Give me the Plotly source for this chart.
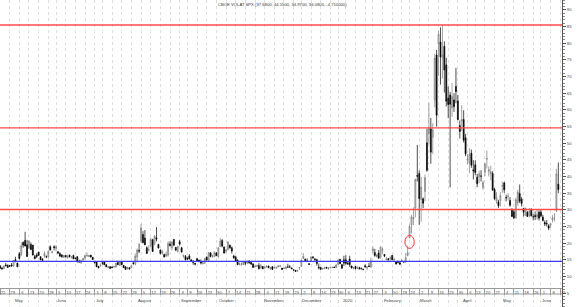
import pandas as pd
import plotly.graph_objects as go

# ---------------- data ----------------
market_holidays = ["2019-05-27", "2019-07-04", "2019-09-02", "2019-11-28", "2019-12-25",
                   "2020-01-01", "2020-01-20", "2020-02-17", "2020-04-10", "2020-05-25"]
dates = pd.bdate_range("2019-04-22", "2020-06-12", freq="C", holidays=market_holidays)

opens = (
    [13.2, 12.5, 12.3, 13.4, 13.3, 13.2, 13.4]  # Apr 2019
    + [13.1, 15.0, 14.0, 16.8, 16.5, 20.2, 20.8, 19.5, 18.6, 19.6, 19.4, 16.0, 16.4, 17.3, 15.9, 15.2, 16.1, 15.9, 15.9, 18.9, 17.2, 18.9]
    + [18.4, 17.4, 16.9, 16.4, 15.7, 16.3, 15.6, 16.4, 15.7, 16.3, 15.5, 15.9, 14.6, 14.0, 14.9, 15.5, 16.3, 16.0, 16.4, 15.7]
    + [14.3, 14.3, 13.0, 13.2, 14.1, 14.3, 13.5, 12.7, 12.9, 12.8, 12.9, 12.8, 14.2, 13.3, 14.4, 13.3, 12.8, 12.4, 12.6, 12.6, 14.0, 13.7]
    + [15.9, 17.8, 20.6, 22.6, 21.5, 18.6, 18.0, 19.3, 21.0, 19.8, 21.6, 19.6, 17.9, 17.0, 16.6, 16.1, 16.4, 19.7, 18.6, 21.1, 18.7, 17.5]
    + [20.4, 18.6, 16.0, 16.0, 15.4, 16.1, 15.0, 14.2, 13.9, 15.3, 14.9, 14.5, 13.8, 14.0, 15.8, 14.7, 17.1, 16.0, 15.9, 17.0]
    + [16.0, 19.0, 20.8, 18.8, 17.6, 18.0, 19.4, 18.6, 16.1, 15.8, 14.8, 13.7, 13.5, 13.6, 14.2, 14.0, 14.6, 14.2, 13.7, 12.9, 13.2, 13.3, 12.5]
    + [13.0, 12.5, 12.9, 13.1, 12.3, 12.9, 12.7, 12.5, 12.9, 13.1, 12.5, 12.4, 12.3, 12.8, 12.8, 12.5, 12.0, 11.8, 11.6, 12.5]
    + [13.0, 15.4, 15.2, 14.6, 13.8, 14.5, 15.8, 15.2, 15.0, 12.8, 12.7, 12.3, 12.3, 12.8, 12.4, 12.6, 12.7, 12.8, 12.6, 13.6, 15.1]
    + [13.5, 15.0, 15.0, 13.9, 15.2, 13.1, 12.5, 13.0, 12.4, 12.6, 12.4, 12.1, 13.2, 12.5, 13.1, 12.8, 17.6, 17.2, 16.0, 17.0, 15.8]
    + [17.8, 16.6, 15.0, 15.3, 15.4, 16.3, 15.0, 14.4, 14.6, 14.1, 14.8, 14.4, 14.4, 16.3, 21.6, 25.5, 27.3, 30.5, 40.3]
    + [40.9, 33.1, 33.3, 35.5, 50.1, 52.9, 54.3, 51.8, 63.0, 76.5, 79.8, 80.4, 75.7, 79.1, 73.5, 63.5, 64.5, 60.6, 63.0, 67.0, 62.7, 55.3]
    + [56.7, 57.1, 51.6, 44.9, 44.0, 47.0, 42.0, 43.5, 39.8, 39.9, 40.1, 36.7, 41.3, 45.2, 41.6, 40.8, 40.9, 36.1, 32.6, 32.4, 32.8]
    + [37.1, 38.1, 33.7, 34.0, 32.8, 29.9, 29.4, 27.6, 32.1, 34.9, 33.2, 30.4, 28.3, 29.3, 28.3, 30.0, 27.9, 28.3, 27.8, 29.3]
    + [29.3, 27.8, 26.2, 25.9, 25.2, 25.4, 26.9, 27.6, 29.7, 37.7]
)
highs = (
    [13.4, 12.9, 13.3, 14.0, 13.6, 13.4, 14.0]
    + [14.9, 15.9, 14.1, 17.3, 20.2, 20.5, 23.4, 21.0, 20.8, 20.2, 19.4, 16.5, 17.0, 17.4, 16.0, 15.4, 17.5, 16.3, 17.9, 19.3, 17.7, 19.3]
    + [19.4, 17.6, 17.2, 16.7, 16.4, 16.4, 16.6, 16.5, 16.1, 16.5, 15.7, 16.1, 15.0, 15.0, 15.6, 16.3, 17.2, 16.5, 16.4, 15.9]
    + [14.5, 14.4, 13.1, 13.9, 14.2, 14.5, 13.6, 13.1, 13.0, 13.0, 13.2, 14.0, 14.7, 14.5, 14.6, 13.4, 13.1, 12.9, 12.7, 13.3, 14.5, 16.9]
    + [18.4, 19.9, 25.8, 23.6, 23.9, 19.0, 19.4, 21.6, 21.3, 22.4, 24.8, 19.8, 18.1, 18.0, 16.8, 17.5, 20.6, 20.5, 20.6, 21.2, 18.8, 19.1]
    + [21.0, 18.9, 16.5, 16.4, 15.9, 16.7, 15.1, 14.9, 14.1, 15.6, 15.0, 15.1, 14.2, 15.6, 16.0, 17.3, 17.2, 16.6, 17.5, 17.3]
    + [18.8, 21.5, 21.2, 19.0, 18.2, 20.6, 19.5, 19.0, 16.5, 16.2, 15.2, 14.2, 14.2, 14.6, 14.3, 14.7, 14.9, 14.3, 14.0, 13.3, 13.5, 14.0, 13.7]
    + [13.1, 12.9, 13.2, 13.2, 12.9, 13.1, 12.9, 12.9, 13.5, 13.4, 12.5, 12.6, 12.9, 13.8, 13.4, 12.7, 12.1, 11.9, 11.8, 12.7]
    + [15.0, 17.0, 15.3, 15.4, 14.0, 15.9, 16.1, 15.5, 15.3, 13.9, 12.8, 12.6, 12.8, 12.8, 12.7, 12.8, 12.9, 12.9, 13.8, 15.1, 15.3]
    + [13.7, 16.2, 16.4, 14.5, 16.2, 13.3, 12.9, 13.0, 13.1, 12.9, 12.7, 12.3, 13.6, 13.0, 14.1, 15.6, 19.0, 18.3, 16.8, 17.9, 19.0]
    + [18.6, 16.7, 15.9, 15.5, 16.0, 16.4, 15.4, 14.5, 14.7, 14.5, 15.1, 14.5, 17.0, 19.2, 25.6, 28.5, 30.7, 39.2, 49.5]
    + [41.8, 39.9, 33.7, 40.6, 54.4, 62.1, 57.6, 56.0, 76.8, 78.0, 83.6, 84.8, 85.5, 80.6, 75.6, 67.0, 65.4, 68.1, 65.0, 72.6, 64.5, 56.8]
    + [61.4, 59.9, 52.8, 46.8, 48.5, 48.1, 44.9, 44.9, 40.8, 41.8, 41.9, 38.8, 44.0, 47.8, 43.0, 43.2, 41.6, 36.6, 35.3, 33.0, 35.3]
    + [38.5, 38.3, 34.5, 35.0, 33.8, 30.5, 30.1, 33.6, 36.0, 37.6, 33.8, 30.6, 30.6, 29.6, 30.5, 30.5, 28.8, 29.5, 30.0, 29.8]
    + [29.9, 28.5, 26.8, 26.9, 25.7, 26.0, 28.4, 29.0, 42.3, 44.2]
)
lows = (
    [12.3, 12.0, 12.2, 12.9, 12.6, 12.8, 13.0]
    + [12.9, 14.3, 12.8, 15.1, 16.2, 18.6, 19.0, 15.8, 18.2, 17.9, 16.3, 15.2, 15.5, 16.2, 14.9, 14.6, 15.6, 15.5, 15.5, 17.8, 16.9, 17.8]
    + [17.5, 16.7, 15.8, 15.6, 15.5, 15.7, 15.3, 15.7, 15.4, 15.2, 15.1, 14.3, 14.2, 13.8, 14.7, 15.0, 15.8, 15.8, 15.7, 15.0]
    + [13.9, 12.8, 12.4, 12.9, 13.5, 13.4, 12.8, 12.4, 12.3, 12.4, 12.6, 12.7, 13.4, 13.1, 13.5, 12.6, 12.0, 12.0, 12.1, 12.5, 13.5, 13.3]
    + [14.2, 17.0, 20.0, 19.9, 19.4, 16.8, 17.4, 18.8, 17.3, 19.4, 20.5, 18.4, 16.6, 16.6, 15.8, 15.9, 15.9, 19.0, 17.8, 19.1, 17.6, 17.2]
    + [19.2, 17.2, 15.6, 14.8, 14.9, 15.1, 14.4, 13.5, 13.3, 14.5, 14.3, 13.6, 13.6, 13.8, 14.9, 14.7, 15.7, 15.6, 15.8, 16.2]
    + [15.4, 18.8, 18.7, 16.9, 17.0, 17.8, 18.3, 16.9, 15.3, 14.5, 13.5, 13.3, 13.2, 13.4, 13.4, 13.7, 13.9, 13.4, 12.6, 12.7, 12.8, 12.1, 12.4]
    + [12.2, 12.3, 12.6, 12.5, 12.0, 12.0, 12.3, 12.3, 12.7, 12.8, 12.0, 12.2, 12.2, 12.6, 12.6, 12.3, 11.7, 11.4, 11.4, 12.0]
    + [12.9, 15.2, 14.5, 14.4, 13.5, 14.4, 15.2, 14.8, 13.2, 12.1, 12.1, 12.1, 12.2, 12.3, 12.0, 12.5, 12.5, 12.5, 12.5, 13.5, 13.8]
    + [12.2, 13.1, 13.5, 13.4, 12.8, 12.4, 12.1, 12.1, 12.3, 12.0, 12.1, 11.8, 12.6, 12.0, 12.8, 12.6, 16.9, 15.9, 15.6, 15.2, 15.3]
    + [16.8, 15.8, 14.9, 14.8, 14.6, 15.0, 14.4, 13.6, 13.9, 13.4, 14.5, 14.0, 14.1, 16.0, 21.5, 22.9, 25.4, 27.7, 38.5]
    + [25.5, 26.4, 30.5, 32.6, 41.4, 49.7, 43.8, 46.8, 60.8, 55.0, 70.2, 67.6, 69.4, 65.2, 61.0, 57.5, 36.7, 57.9, 59.4, 62.0, 56.9, 51.4]
    + [53.6, 50.2, 46.1, 43.7, 41.0, 42.6, 39.1, 40.4, 36.8, 38.0, 38.5, 36.0, 40.1, 42.4, 40.0, 38.9, 35.8, 33.0, 31.8, 30.5, 31.0]
    + [35.1, 35.1, 32.5, 32.8, 30.9, 27.9, 27.2, 27.3, 31.2, 32.0, 31.0, 28.0, 28.3, 27.9, 27.7, 28.0, 26.8, 26.9, 27.0, 26.8]
    + [27.8, 26.5, 25.1, 25.0, 23.9, 24.5, 26.2, 26.5, 29.3, 35.0]
)
closes = (
    [12.4, 12.3, 13.1, 13.3, 12.7, 13.1, 13.1]
    + [14.8, 14.4, 12.9, 15.4, 19.3, 19.4, 19.1, 16.0, 20.6, 18.1, 16.4, 15.3, 16.0, 16.3, 15.0, 14.8, 16.9, 15.9, 17.5, 17.9, 17.3, 18.7]
    + [18.9, 17.0, 16.1, 15.9, 16.3, 15.9, 16.0, 15.9, 15.8, 15.3, 15.4, 14.3, 14.3, 14.8, 15.4, 16.3, 16.3, 16.2, 15.8, 15.1]
    + [14.1, 12.9, 12.6, 13.3, 14.0, 13.5, 12.9, 12.9, 12.4, 12.7, 12.9, 14.0, 13.5, 14.5, 13.5, 12.6, 12.1, 12.7, 12.2, 13.2, 13.9, 16.1]
    + [17.9, 17.6, 24.6, 20.2, 19.5, 16.9, 18.0, 21.1, 17.5, 22.1, 21.2, 18.5, 16.9, 17.5, 15.8, 16.7, 19.9, 19.3, 20.3, 19.4, 17.9, 19.0]
    + [19.7, 17.3, 16.3, 15.0, 15.3, 15.2, 14.6, 14.2, 13.7, 14.7, 14.4, 14.0, 14.1, 15.3, 14.9, 17.1, 16.0, 16.1, 17.2, 16.2]
    + [18.6, 20.6, 19.1, 17.0, 17.9, 20.3, 18.6, 17.6, 15.6, 14.6, 13.5, 13.7, 13.8, 14.3, 14.0, 14.5, 14.0, 13.7, 12.7, 13.1, 13.2, 12.3, 13.2]
    + [12.3, 12.8, 13.1, 12.6, 12.7, 12.1, 12.7, 12.7, 13.0, 13.1, 12.1, 12.5, 12.9, 12.8, 12.8, 12.3, 11.9, 11.5, 11.8, 12.6]
    + [14.9, 16.0, 14.8, 14.5, 13.6, 15.9, 15.7, 15.0, 13.9, 12.6, 12.1, 12.3, 12.6, 12.5, 12.5, 12.6, 12.7, 12.7, 13.4, 14.8, 13.8]
    + [12.5, 14.0, 13.9, 13.8, 13.5, 12.5, 12.6, 12.3, 12.4, 12.4, 12.3, 12.1, 12.9, 12.9, 13.0, 14.6, 18.2, 16.3, 16.4, 15.5, 18.8]
    + [18.0, 16.1, 15.2, 15.0, 15.5, 15.0, 15.2, 13.7, 14.2, 13.7, 14.8, 14.4, 15.6, 17.1, 25.0, 27.9, 27.6, 39.2, 40.1]
    + [33.4, 36.8, 32.0, 39.6, 41.9, 54.5, 47.3, 53.9, 75.5, 58.4, 82.7, 75.9, 76.5, 72.0, 62.6, 61.6, 61.7, 64.0, 61.0, 65.5, 57.1, 53.5]
    + [57.1, 50.9, 46.8, 45.2, 46.7, 43.4, 41.7, 41.2, 37.8, 40.8, 40.1, 38.2, 43.8, 45.4, 42.0, 41.4, 35.9, 33.3, 33.6, 31.2, 34.2]
    + [37.2, 36.0, 33.6, 34.1, 31.4, 28.0, 27.6, 33.0, 35.3, 32.6, 31.9, 29.3, 30.5, 28.0, 29.5, 28.2, 27.9, 28.0, 28.6, 27.5]
    + [28.2, 26.8, 25.7, 25.8, 24.5, 25.8, 27.6, 27.6, 40.8, 36.1]
)

title_text = "CBOE VOLAT SPX (37.6800, 44.1500, 34.9700, 36.0900, -4.710000)"
red_levels = [85.5, 54.6, 30.1]
blue_levels = [14.5]
circle_date = "2020-02-24"
circle_half_days = 2.4
circle_values = [18.4, 22.3]
next_tick_label = "15"
month_names = {1: "2020", 2: "February", 3: "March", 4: "April", 5: "May", 6: "June",
               7: "July", 8: "August", 9: "September", 10: "October", 11: "November", 12: "December"}
y_ticks = list(range(5, 95, 5))

# ---------------- build ----------------
n = min(len(dates), len(opens), len(highs), len(lows), len(closes))
dates = dates[:n]
idx = list(range(n))

iso = dates.isocalendar()
wk = list(zip(iso.year, iso.week))
tick_idx = [i for i in idx if i == 0 or wk[i] != wk[i - 1]]
tick_txt = [str(dates[i].day) for i in tick_idx]
tick_idx.append(n)
tick_txt.append(next_tick_label)

month_idx = [i for i in idx if i > 0 and dates[i].month != dates[i - 1].month]

W, H = 580, 307
AX_Y = 288   # pixel row of date axis line
ROW_B = 294
paper_axis = (H - AX_Y) / H
paper_rowb = (H - ROW_B) / H
font = "Liberation Sans, Arial, sans-serif"

fig = go.Figure()
fig.add_trace(go.Candlestick(
    x=idx, open=opens[:n], high=highs[:n], low=lows[:n], close=closes[:n],
    increasing=dict(line=dict(color="#7a7a7a", width=0.7), fillcolor="#d2d2d2"),
    decreasing=dict(line=dict(color="#000000", width=0.7), fillcolor="#000000"),
    whiskerwidth=0, showlegend=False, hoverinfo="skip",
))

shapes = []
shapes.append(dict(type="rect", xref="paper", yref="paper", x0=0, x1=1, y0=0, y1=paper_axis,
                   fillcolor="white", line=dict(width=0), layer="between"))
shapes.append(dict(type="line", xref="paper", yref="paper", x0=0, x1=1, y0=paper_rowb, y1=paper_rowb,
                   line=dict(color="#9a9a9a", width=1)))
for lv in red_levels:
    shapes.append(dict(type="line", xref="paper", yref="y", x0=0, x1=1, y0=lv, y1=lv,
                       line=dict(color="#ff4a4a", width=1.4)))
for lv in blue_levels:
    shapes.append(dict(type="line", xref="paper", yref="y", x0=0, x1=1, y0=lv, y1=lv,
                       line=dict(color="#3a3af0", width=1.4)))
ci = list(dates).index(pd.Timestamp(circle_date))
shapes.append(dict(type="circle", xref="x", yref="y",
                   x0=ci - circle_half_days, x1=ci + circle_half_days,
                   y0=circle_values[0], y1=circle_values[1],
                   line=dict(color="#ff3030", width=1)))

annotations = [dict(text=title_text, xref="paper", yref="paper", x=0.502, y=1 - 4.5 / H,
                    xanchor="center", yanchor="middle", showarrow=False,
                    font=dict(size=4.2, color="#333333", family=font))]
for i in month_idx:
    annotations.append(dict(text=month_names[dates[i].month], xref="x", yref="paper",
                            x=i, y=(H - 300) / H, xanchor="left", yanchor="middle",
                            showarrow=False, xshift=-1,
                            font=dict(size=4.2, color="#444444", family=font)))

fig.update_layout(
    width=W, height=H, autosize=False,
    margin=dict(l=0, r=18, t=0, b=0),
    paper_bgcolor="white", plot_bgcolor="white",
    shapes=shapes, annotations=annotations,
    xaxis=dict(
        range=[0.0, 290.9], anchor="free", position=paper_axis,
        rangeslider=dict(visible=False),
        tickmode="array", tickvals=tick_idx, ticktext=tick_txt,
        ticks="outside", ticklen=ROW_B - AX_Y, tickcolor="#9a9a9a", tickwidth=1,
        ticklabelshift=3, ticklabelstandoff=-(ROW_B - AX_Y),
        tickfont=dict(size=4.2, color="#444444", family=font),
        showgrid=True, gridcolor="#dedede", griddash="dot", gridwidth=1,
        showline=True, linecolor="#9a9a9a", linewidth=1,
        zeroline=False, fixedrange=True,
    ),
    yaxis=dict(
        side="right", range=[0.81, 93.0],
        tickmode="array", tickvals=y_ticks, ticktext=[str(v) for v in y_ticks],
        ticks="outside", ticklen=3, tickcolor="#555555", tickwidth=1,
        minor=dict(dtick=1, ticks="outside", ticklen=1.5, tickcolor="#888888", showgrid=False),
        tickfont=dict(size=4.2, color="#444444", family=font),
        showgrid=False, showline=True, linecolor="#555555", linewidth=1,
        zeroline=False, fixedrange=True,
    ),
)

fig.write_html("out.html")
